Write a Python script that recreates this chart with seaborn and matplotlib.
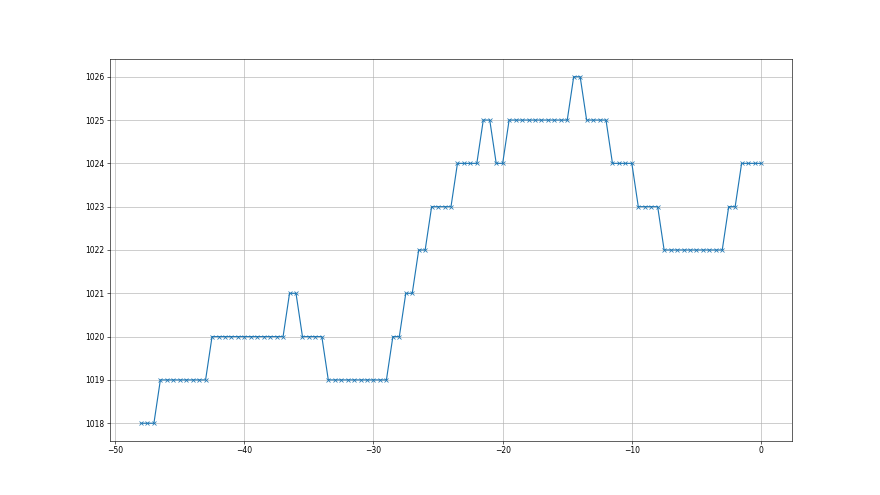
import numpy as np
import pandas as pd
import matplotlib
matplotlib.use("Agg")
import matplotlib.pyplot as plt
import seaborn as sns

# time offsets (half-unit steps) and readings
hours = list(np.arange(-48, 0.01, 0.5))
pressure = (
    [1018] * 3 + [1019] * 8 + [1020] * 12 + [1021] * 2 + [1020] * 4
    + [1019] * 10 + [1020] * 2 + [1021] * 2 + [1022] * 2 + [1023] * 4
    + [1024] * 4 + [1025] * 2 + [1024] * 2 + [1025] * 10 + [1026] * 2
    + [1025] * 4 + [1024] * 4 + [1023] * 4 + [1022] * 10 + [1023] * 2
    + [1024] * 4
)

df = pd.DataFrame({"hours": hours, "pressure": pressure})

fig, ax = plt.subplots(figsize=(16, 9), dpi=55)
sns.lineplot(data=df, x="hours", y="pressure", marker="x", color="C0",
             markeredgecolor="C0", markeredgewidth=1.0, markersize=6, ax=ax)
ax.set_xlabel("")
ax.set_ylabel("")
ax.grid(True)
ax.ticklabel_format(useOffset=False, axis="y")

plt.savefig("out.png", dpi=55)
